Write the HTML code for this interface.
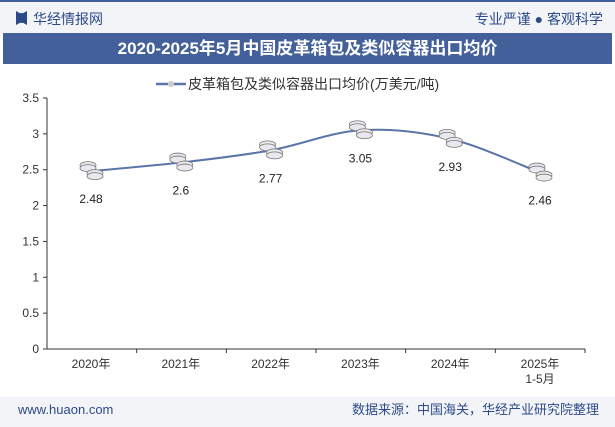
<!DOCTYPE html>
<html><head><meta charset="utf-8"><style>
body{margin:0;width:615px;height:427px;background:#fff;font-family:"Liberation Sans","Noto Sans CJK SC",sans-serif;position:relative;overflow:hidden}
.top{position:absolute;left:0;top:0;width:615px;height:33px;background:#f3f4f8;border-top:2px solid #44609a;box-sizing:border-box}
.title{position:absolute;left:3px;top:33px;width:609px;height:31px;background:#44609a;color:#fff;font-weight:bold;font-size:17px;text-align:center;line-height:31px}
.foot{position:absolute;left:0;top:397px;width:615px;height:30px;background:#f3f4f8;font-size:13px;color:#2c4a8a;line-height:26px}
</style></head><body>
<div class="top">
<span style="position:absolute;left:16px;top:9px;width:11px;height:14px;background:#2c4a8a;clip-path:polygon(0 0,35% 15%,65% 15%,100% 0,100% 100%,65% 85%,35% 85%,0 100%)"></span>
<span style="position:absolute;left:33px;top:7px;font-size:14px;color:#2c4a8a">华经情报网</span>
<span style="position:absolute;right:12px;top:7px;font-size:14px;color:#2c4a8a">专业严谨 ● 客观科学</span>
</div>
<div class="title">2020-2025年5月中国皮革箱包及类似容器出口均价</div>
<svg width="615" height="427" style="position:absolute;left:0;top:0" id="chart">
<g>
<line x1="156" y1="84" x2="186" y2="84" stroke="#5a75a8" stroke-width="2.5"/>
<circle cx="171" cy="84" r="3" fill="#ccc"/>
<text x="188" y="89" font-size="14" fill="#333">皮革箱包及类似容器出口均价(万美元/吨)</text>
</g>
<g id="axes"></g><g id="marks"></g>
</svg>
<div class="foot">
<span style="position:absolute;left:18px;top:0">www.huaon.com</span>
<span style="position:absolute;right:16px;top:0">数据来源：中国海关，华经产业研究院整理</span>
</div>
<script>
const categories=["2020年","2021年","2022年","2023年","2024年","2025年"];
const values=[2.48,2.6,2.77,3.05,2.93,2.46];
const valueLabels=["2.48","2.6","2.77","3.05","2.93","2.46"];
const yTicks=[0,0.5,1,1.5,2,2.5,3,3.5];
const NS="http://www.w3.org/2000/svg";
const x0=47,x1=585,yBase=349,yTop=98;
const xs=i=>91+i*89.8;
const ys=v=>yBase-(v/3.5)*(yBase-yTop);
function el(t,a,p){const e=document.createElementNS(NS,t);for(const k in a)e.setAttribute(k,a[k]);p.appendChild(e);return e;}
const ax=document.getElementById('axes'),mk=document.getElementById('marks');
let yl=el('line',{x1:x0,y1:yTop,x2:x0,y2:yBase,stroke:'#333'},ax);

let xl=el('line',{x1:x0,y1:yBase,x2:x1,y2:yBase,stroke:'#333'},ax);

yTicks.forEach(v=>{
 el('line',{x1:x0-4,y1:ys(v),x2:x0,y2:ys(v),stroke:'#333'},ax);
 const t=el('text',{x:x0-8,y:ys(v)+4,'text-anchor':'end','font-size':12,fill:'#333'},ax);t.textContent=v;
 
});
categories.forEach((c,i)=>{
 const bx=x0+(i+1)*(x1-x0)/6;
 el('line',{x1:bx,y1:yBase,x2:bx,y2:yBase+4,stroke:'#333'},ax);
 const t=el('text',{x:xs(i),y:yBase+19,'text-anchor':'middle','font-size':12,fill:'#333'},ax);t.textContent=c;
 
 if(i===categories.length-1){const t2=el('text',{x:xs(i),y:yBase+34,'text-anchor':'middle','font-size':12,fill:'#333'},ax);t2.textContent="1-5月";}
});
const pts=values.map((v,i)=>[xs(i),ys(v)]);
let d=`M${pts[0][0]},${pts[0][1]}`;
for(let i=0;i<pts.length-1;i++){
 const p0=pts[Math.max(0,i-1)],p1=pts[i],p2=pts[i+1],p3=pts[Math.min(pts.length-1,i+2)];
 const c1=[p1[0]+(p2[0]-p0[0])/6,p1[1]+(p2[1]-p0[1])/6],c2=[p2[0]-(p3[0]-p1[0])/6,p2[1]-(p3[1]-p1[1])/6];
 d+=` C${c1[0]},${c1[1]} ${c2[0]},${c2[1]} ${p2[0]},${p2[1]}`;
}
const line=el('path',{d:d,fill:'none',stroke:'#5a75a8','stroke-width':2},mk);

pts.forEach((p,i)=>{
 const g=el('g',{},mk);
 
 [[-3,-6],[-3,-3],[4,2],[4,5]].forEach(o=>el('ellipse',{cx:p[0]+o[0],cy:p[1]+o[1],rx:8,ry:3.5,fill:'#e8e8ee',stroke:'#777','stroke-width':0.8},g));
 const t=el('text',{x:p[0],y:p[1]+32,'text-anchor':'middle','font-size':12,fill:'#222'},mk);t.textContent=valueLabels[i];
 
});
</script>
</body></html>
